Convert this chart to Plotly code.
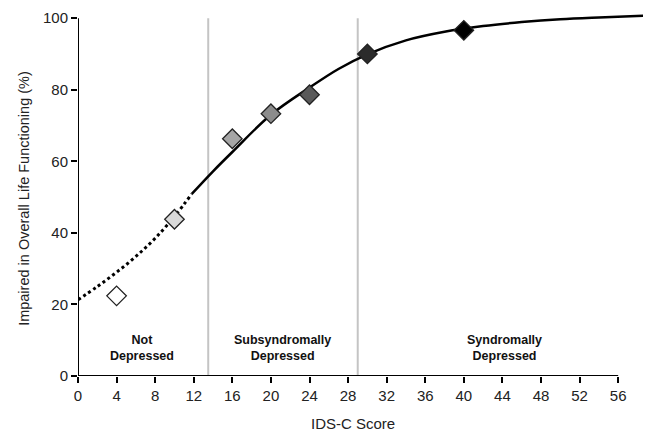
import plotly.graph_objects as go

# Observed group means
score = [4, 10, 16, 20, 24, 30, 40]
impaired = [22.4, 43.8, 66.3, 73.3, 78.6, 90.0, 96.6]
fill_colors = ["#ffffff", "#d9d9d9", "#a6a6a6", "#8c8c8c", "#595959", "#2b2b2b", "#000000"]

# Fitted curve (dotted portion, then solid portion)
fit_dotted_x = [0, 2, 4, 6, 8, 10, 11.8]
fit_dotted_y = [21.3, 25.0, 29.0, 33.4, 38.5, 44.6, 50.9]
fit_solid_x = [11.8, 14, 16, 20, 24, 27, 30, 34, 38, 42, 46, 50, 54, 59]
fit_solid_y = [50.9, 57.2, 62.6, 73.0, 80.6, 85.8, 89.9, 93.8, 96.2, 97.8, 98.9, 99.7, 100.2, 100.7]

# Category cut-offs and labels
cutoffs = [13.5, 29]
region_x = [6.6, 21.2, 44.2]
region_labels = ["Not<br>Depressed", "Subsyndromally<br>Depressed", "Syndromally<br>Depressed"]

x_ticks = list(range(0, 57, 4))
y_ticks = list(range(0, 101, 20))

font_family = "Liberation Sans, Arial, sans-serif"

fig = go.Figure()

fig.add_trace(go.Scatter(
    x=fit_dotted_x, y=fit_dotted_y, mode="lines", line_shape="spline",
    line=dict(color="black", width=3, dash="dot"), hoverinfo="skip", showlegend=False))
fig.add_trace(go.Scatter(
    x=fit_solid_x, y=fit_solid_y, mode="lines", line_shape="spline",
    line=dict(color="black", width=2.5), hoverinfo="skip", showlegend=False))
fig.add_trace(go.Scatter(
    x=score, y=impaired, mode="markers",
    marker=dict(symbol="diamond", size=15, color=fill_colors,
                line=dict(color="#222222", width=1.3)),
    showlegend=False, cliponaxis=False))

shapes = []
for c in cutoffs:
    shapes.append(dict(type="line", xref="x", yref="y", x0=c, x1=c, y0=0, y1=100,
                       line=dict(color="#c4c4c4", width=2), layer="below"))
# axis lines
shapes.append(dict(type="line", xref="x", yref="y", x0=0, x1=56, y0=0, y1=0,
                   line=dict(color="black", width=2)))
shapes.append(dict(type="line", xref="x", yref="y", x0=0, x1=0, y0=0, y1=100,
                   line=dict(color="black", width=2)))

annotations = []
for rx, lab in zip(region_x, region_labels):
    annotations.append(dict(x=rx, y=7.7, xref="x", yref="y", text="<b>" + lab + "</b>",
                            showarrow=False, font=dict(size=12.5, color="#111111", family=font_family),
                            align="center", xanchor="center", yanchor="middle"))
annotations.append(dict(x=28.5, y=0, xref="x", yref="paper", yshift=-47,
                        xanchor="center", yanchor="middle",
                        text="IDS-C Score", showarrow=False,
                        font=dict(size=15, color="#222222", family=font_family)))
annotations.append(dict(x=0, y=49.5, xref="paper", yref="y", xshift=-54,
                        xanchor="center", yanchor="middle",
                        text="Impaired in Overall Life Functioning (%)", textangle=-90,
                        showarrow=False, font=dict(size=14.5, color="#222222", family=font_family)))

# page has an 8px body margin, so the figure is shrunk and shifted accordingly
fig.update_layout(
    width=643, height=430,
    margin=dict(l=70, r=1, t=1, b=62),
    paper_bgcolor="white", plot_bgcolor="white",
    font=dict(family=font_family, size=15, color="#222222"),
    shapes=shapes, annotations=annotations,
    xaxis=dict(range=[0, 59.3], tickvals=x_ticks, ticks="outside", ticklen=6,
               tickwidth=1.5, tickcolor="black", showline=False, showgrid=False,
               zeroline=False, tickfont=dict(size=15), ticklabeloverflow="allow"),
    yaxis=dict(range=[0, 102], tickvals=y_ticks, ticks="outside", ticklen=6,
               tickwidth=1.5, tickcolor="black", showline=False, showgrid=False,
               zeroline=False, tickfont=dict(size=15), ticklabeloverflow="allow"),
)

fig.write_html("out.html")
